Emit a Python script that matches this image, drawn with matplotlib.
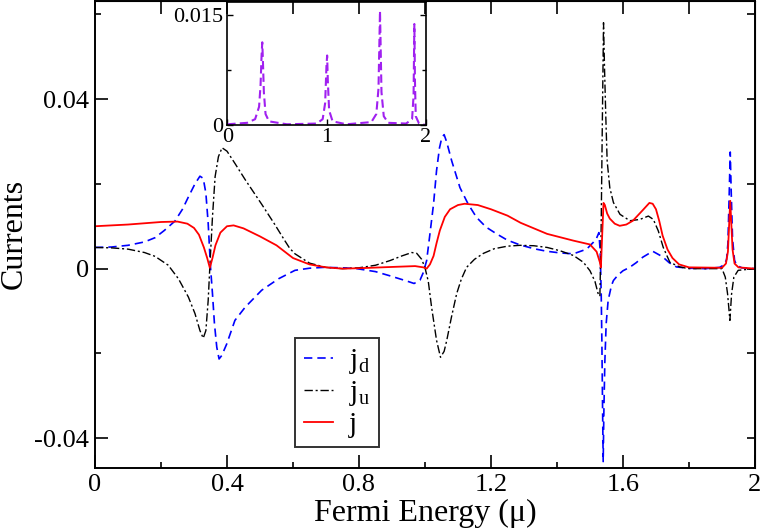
import matplotlib
matplotlib.use("Agg")
import matplotlib.pyplot as plt
from matplotlib.ticker import MultipleLocator, FixedLocator

plt.rcParams['font.family'] = ['Liberation Serif', 'DejaVu Serif']
plt.rcParams['mathtext.fontset'] = 'custom'
plt.rcParams['mathtext.rm'] = 'Liberation Serif'
plt.rcParams['mathtext.it'] = 'Liberation Serif:italic'

# j_d (blue dashed)
xd = [0.0, 0.05, 0.10, 0.15, 0.182, 0.21, 0.242, 0.265, 0.283, 0.303, 0.318, 0.328, 0.336,
      0.343, 0.350, 0.356, 0.362, 0.369, 0.376, 0.384, 0.399, 0.424, 0.455, 0.505, 0.556,
      0.606, 0.65, 0.692, 0.75, 0.793, 0.85, 0.894, 0.944, 0.967, 0.985, 0.995, 1.005,
      1.015, 1.026, 1.035, 1.044, 1.051, 1.058, 1.066, 1.081, 1.106, 1.131, 1.156, 1.185,
      1.217, 1.25, 1.288, 1.33, 1.369, 1.41, 1.45, 1.49, 1.51, 1.52, 1.527, 1.531, 1.534,
      1.536, 1.538, 1.540, 1.542, 1.545, 1.549, 1.555, 1.565, 1.571, 1.585, 1.60, 1.62,
      1.64, 1.66, 1.69, 1.72, 1.74, 1.762, 1.80, 1.85, 1.893, 1.908, 1.914, 1.918, 1.922,
      1.925, 1.928, 1.932, 1.938, 1.944, 1.96, 2.0]
jd = [0.0050, 0.0051, 0.0055, 0.0063, 0.0073, 0.0090, 0.0112, 0.0140, 0.0169, 0.0200, 0.0218,
      0.0213, 0.0178, 0.0107, 0.0004, -0.0059, -0.0130, -0.0185, -0.0213, -0.0205, -0.0178,
      -0.0122, -0.0091, -0.0051, -0.0024, -0.0004, 0.0001, 0.0003, 0.0002, 0.0000, -0.0007,
      -0.0017, -0.0029, -0.0035, -0.0027, -0.0009, 0.0019, 0.0082, 0.0153, 0.0231, 0.0285,
      0.0309, 0.0316, 0.0298, 0.0254, 0.0191, 0.0152, 0.0121, 0.0098, 0.0082, 0.0067, 0.0056,
      0.0047, 0.0041, 0.0037, 0.0035, 0.0046, 0.0062, 0.0072, 0.0085, 0.0040, -0.0060, -0.0170,
      -0.0320, -0.0455, -0.0340, -0.0220, -0.0130, -0.0075, -0.0040, -0.0028, -0.0015, -0.0005,
      0.0003, 0.0014, 0.0027, 0.0041, 0.0028, 0.0014, 0.0004, 0.0001, 0.0000, 0.0003, 0.0010,
      0.0022, 0.0060, 0.0180, 0.0275, 0.0180, 0.0070, 0.0020, 0.0008, 0.0002, 0.0000]

# j_u (black dash-dot)
xu = [0.0, 0.05, 0.10, 0.15, 0.182, 0.222, 0.253, 0.283, 0.303, 0.318, 0.328, 0.336, 0.343,
      0.348, 0.356, 0.364, 0.374, 0.385, 0.40, 0.425, 0.455, 0.48, 0.505, 0.525, 0.545, 0.56,
      0.576, 0.59, 0.606, 0.65, 0.70, 0.75, 0.80, 0.85, 0.894, 0.93, 0.96, 0.975, 0.99, 1.00,
      1.01, 1.02, 1.035, 1.047, 1.058, 1.066, 1.08, 1.096, 1.11, 1.126, 1.15, 1.177, 1.21,
      1.25, 1.288, 1.33, 1.37, 1.41, 1.45, 1.48, 1.50, 1.515, 1.525, 1.530, 1.5336, 1.537,
      1.541, 1.544, 1.548, 1.552, 1.560, 1.571, 1.591, 1.621, 1.651, 1.677, 1.692, 1.707,
      1.722, 1.742, 1.772, 1.80, 1.90, 1.91, 1.917, 1.924, 1.929, 1.936, 1.949, 2.0]
ju = [0.0050, 0.0049, 0.0046, 0.0038, 0.0029, 0.0008, -0.0024, -0.0067, -0.0106, -0.0146,
      -0.0164, -0.0146, -0.0075, 0.0004, 0.0122, 0.0217, 0.0264, 0.0285, 0.0277, 0.0247,
      0.0210, 0.0181, 0.0152, 0.0128, 0.0104, 0.0085, 0.0065, 0.0048, 0.0035, 0.0013, 0.0003,
      0.0000, 0.0002, 0.0008, 0.0019, 0.0030, 0.0038, 0.0036, 0.0022, 0.0002, -0.0030,
      -0.0091, -0.0169, -0.0209, -0.0195, -0.0169, -0.0115, -0.0059, -0.0025, 0.0003, 0.0022,
      0.0036, 0.0047, 0.0053, 0.0055, 0.0054, 0.0050, 0.0042, 0.0031, 0.0015, -0.0005, -0.0030,
      -0.0060, -0.0065, 0.0082, 0.0317, 0.0580, 0.0474, 0.0356, 0.0254, 0.0191, 0.0156, 0.0128,
      0.0113, 0.0116, 0.0124, 0.0116, 0.0089, 0.0050, 0.0015, 0.0004, 0.0000, 0.0000, -0.0020,
      -0.0060, -0.0122, -0.0060, -0.0020, -0.0004, 0.0000]

# j (red solid)
xj = [0.0, 0.10, 0.20, 0.25, 0.28, 0.30, 0.315, 0.33, 0.34, 0.348, 0.356, 0.365, 0.38, 0.40,
      0.42, 0.45, 0.50, 0.55, 0.60, 0.65, 0.70, 0.75, 0.80, 0.90, 0.97, 0.995, 1.005, 1.015,
      1.026, 1.035, 1.045, 1.06, 1.076, 1.10, 1.12, 1.16, 1.20, 1.25, 1.29, 1.37, 1.45, 1.50,
      1.52, 1.53, 1.533, 1.537, 1.541, 1.545, 1.552, 1.56, 1.575, 1.59, 1.61, 1.63, 1.66,
      1.68, 1.69, 1.70, 1.71, 1.72, 1.735, 1.75, 1.77, 1.80, 1.90, 1.912, 1.918, 1.922,
      1.925, 1.928, 1.932, 1.938, 1.95, 2.0]
jt = [0.0100, 0.0104, 0.0110, 0.0111, 0.0106, 0.0096, 0.0080, 0.0050, 0.0025, 0.0002, 0.0025,
      0.0055, 0.0085, 0.0100, 0.0102, 0.0095, 0.0076, 0.0055, 0.0025, 0.0010, 0.0003, 0.0000,
      0.0001, 0.0004, 0.0006, 0.0003, 0.0000, 0.0010, 0.0030, 0.0060, 0.0090, 0.0122, 0.0140,
      0.0150, 0.0153, 0.0150, 0.0140, 0.0125, 0.0108, 0.0082, 0.0066, 0.0057, 0.0040, 0.0015,
      0.0003, 0.0080, 0.0155, 0.0150, 0.0130, 0.0118, 0.0106, 0.0101, 0.0104, 0.0113, 0.0138,
      0.0155, 0.0153, 0.0140, 0.0112, 0.0078, 0.0045, 0.0025, 0.0010, 0.0003, 0.0002, 0.0012,
      0.0040, 0.0110, 0.0160, 0.0110, 0.0045, 0.0012, 0.0003, 0.0000]

# inset (purple dashed)
xin = [0.0, 0.2, 0.28, 0.32, 0.335, 0.345, 0.352, 0.358, 0.368, 0.385, 0.42, 0.6, 0.9, 0.96,
       0.985, 0.998, 1.005, 1.012, 1.025, 1.06, 1.2, 1.45, 1.50, 1.522, 1.532, 1.537, 1.542,
       1.552, 1.575, 1.62, 1.80, 1.86, 1.875, 1.883, 1.889, 1.897, 1.93, 2.0]
yin = [0.0001, 0.0003, 0.0008, 0.0025, 0.0055, 0.0095, 0.0113, 0.0090, 0.0045, 0.0015, 0.0005,
       0.0001, 0.0002, 0.0008, 0.0030, 0.0080, 0.0095, 0.0060, 0.0020, 0.0005, 0.0001, 0.0004,
       0.0015, 0.0050, 0.0120, 0.0156, 0.0120, 0.0045, 0.0012, 0.0003, 0.0002, 0.0008, 0.0040,
       0.0138, 0.0060, 0.0012, 0.0002, 0.0000]

fig = plt.figure(figsize=(7.63, 5.32), dpi=100)
ax = fig.add_axes([0.1245, 0.1212, 0.865, 0.8768])

ax.plot(xd, jd, color='#0000ff', lw=1.2, ls=(0, (5, 3)), label=r'$\mathrm{j_d}$')
ax.plot(xu, ju, color='black', lw=1.0, ls=(0, (6, 2, 1.5, 2)), label=r'$\mathrm{j_u}$')
ax.plot(xj, jt, color='#ff0000', lw=1.3, label='j')

ax.set_xlim(0, 2)
ax.set_ylim(-0.0469, 0.0631)
ax.xaxis.set_major_locator(FixedLocator([0, 0.4, 0.8, 1.2, 1.6, 2.0]))
ax.xaxis.set_minor_locator(MultipleLocator(0.2))
ax.set_xticklabels(['0', '0.4', '0.8', '1.2', '1.6', '2'])
ax.yaxis.set_major_locator(FixedLocator([-0.04, 0, 0.04]))
ax.yaxis.set_minor_locator(MultipleLocator(0.02))
ax.set_yticklabels(['-0.04', '0', '0.04'])
ax.tick_params(which='both', direction='in', labelsize=19, width=1.2, top=False, right=False)
ax.tick_params(which='major', length=9.5, pad=4.5)
ax.tick_params(which='minor', length=4.5)
for s in ax.spines.values():
    s.set_linewidth(1.4)

# opposite side ticks (same length for major and minor)
top = ax.secondary_xaxis('top')
top.xaxis.set_major_locator(MultipleLocator(0.2))
top.tick_params(direction='in', length=9, width=1.2, labeltop=False)
right = ax.secondary_yaxis('right')
right.yaxis.set_major_locator(MultipleLocator(0.02))
right.tick_params(direction='in', length=5.5, width=1.2, labelright=False)

ax.set_xlabel('Fermi Energy (μ)', fontsize=23, labelpad=2)
ax.set_ylabel('Currents', fontsize=23, labelpad=4)

leg = ax.legend(loc='lower left', bbox_to_anchor=(0.303, 0.044), borderaxespad=0,
                fontsize=21, frameon=True, fancybox=False, framealpha=1,
                edgecolor='#333333', handlelength=1.0, handletextpad=0.55,
                labelspacing=0.12, borderpad=0.3)
leg.get_frame().set_linewidth(1.4)

ins = fig.add_axes([0.2979, 0.765, 0.2604, 0.2312])
ins.patch.set_alpha(0)
ins.plot(xin, yin, color='#a020f0', lw=1.5, ls=(0, (4, 2)))
ins.set_xlim(0, 2)
ins.set_ylim(0, 0.0168)
ins.xaxis.set_major_locator(FixedLocator([0, 1, 2]))
ins.set_xticklabels(['0', '1', '2'])
ins.yaxis.set_major_locator(FixedLocator([0, 0.015]))
ins.yaxis.set_minor_locator(FixedLocator([0.0075]))
ins.set_yticklabels(['0', '0.015'])
ins.tick_params(which='both', direction='in', labelsize=16, width=1.0, right=True)
ins.tick_params(which='major', length=4.5, pad=3)
ins.tick_params(which='minor', length=3)
ins.tick_params(axis='x', pad=2)
for s in ins.spines.values():
    s.set_linewidth(1.2)

fig.savefig('out.png', dpi=100)
